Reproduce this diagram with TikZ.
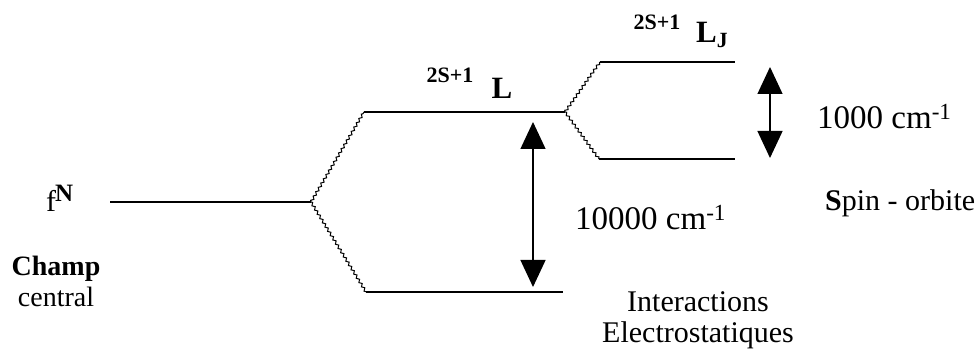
\documentclass[tikz,border=0pt]{standalone}
\usepackage{fontspec}
\setmainfont{Liberation Serif}
\usetikzlibrary{arrows.meta}
\usetikzlibrary{decorations.pathmorphing}

\tikzset{
  level/.style={line width=1.4pt},
  split/.style={line width=1pt,decorate,decoration={zigzag,segment length=5pt,amplitude=1.2pt}},
  gap/.style={line width=1.3pt,{Triangle[width=25pt,length=27pt]}-{Triangle[width=25pt,length=27pt]}},
  lbl/.style={font=\fontsize{30}{31}\selectfont,inner sep=0pt},
  big/.style={font=\fontsize{33}{36}\selectfont,inner sep=0pt,anchor=west},
  term/.style={font=\bfseries\fontsize{22}{24}\selectfont,inner sep=0pt}
}

\begin{document}
\begin{tikzpicture}[x=1pt,y=-1pt]
\useasboundingbox (0,0) rectangle (979,352);
% niveaux
\coordinate (fA) at (110,202);
\coordinate (fB) at (311,202);
\coordinate (LA) at (364,112);
\coordinate (LB) at (565,112);
\coordinate (EA) at (366,292);
\coordinate (EB) at (563,292);
\coordinate (JtA) at (600,62);
\coordinate (JtB) at (735,62);
\coordinate (JbA) at (599,159);
\coordinate (JbB) at (735,159);
\draw[level] (fA) -- (fB);
\draw[level] (LA) -- (LB);
\draw[level] (EA) -- (EB);
\draw[level] (JtA) -- (JtB);
\draw[level] (JbA) -- (JbB);
% eclatements
\draw[split] (fB) -- (LA);
\draw[split] (fB) -- (EA);
\draw[split] (LB) -- (JtA);
\draw[split] (LB) -- (JbA);
% ecarts
\coordinate (gLt) at (533,122);
\coordinate (gLb) at (533,287);
\coordinate (gJt) at (770,67);
\coordinate (gJb) at (770,158);
\draw[gap] (gLt) -- (gLb);
\draw[gap] (gJt) -- (gJb);

\node[lbl,anchor=west] (fN) at (46,198) {f\kern-1pt\raisebox{10pt}{\bfseries\fontsize{25}{28}\selectfont N}};
\node[lbl,font=\fontsize{28}{31}\selectfont,align=center] (champ) at (56,281) {\textbf{Champ}\\central};
\node[term] (tL) at (450,75) {2S+1};
\node[lbl,font=\bfseries\fontsize{31}{34}\selectfont] (L) at (502,88) {L};
\node[term] (tJ) at (657,22) {2S+1};
\node[lbl,font=\bfseries\fontsize{31}{34}\selectfont,anchor=west] (LJ) at (696,35) {L\textsubscript{J}};
\node[big] (eL) at (575,218) {10000 cm\textsuperscript{-1}};
\node[big] (eJ) at (817,117) {1000 cm\textsuperscript{-1}};
\node[lbl,anchor=west] (so) at (825,203) {\textbf{S}pin - orbite};
\node[lbl,align=center] (ie) at (698,320) {Interactions\\Electrostatiques};
\end{tikzpicture}
\end{document}
